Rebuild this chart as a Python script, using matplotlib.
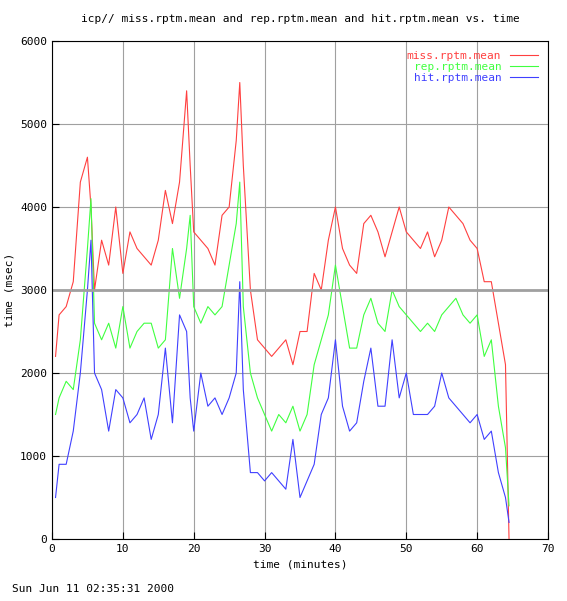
import matplotlib
matplotlib.use("Agg")
import matplotlib.pyplot as plt

t = [0.5,1,2,3,4,5,5.5,6,7,8,9,10,11,12,13,14,15,16,17,18,19,19.5,20,21,22,23,24,25,26,26.5,27,28,29,30,31,32,33,34,35,36,37,38,39,40,41,42,43,44,45,46,47,48,49,50,51,52,53,54,55,56,57,58,59,60,61,62,63,64,64.5]
miss = [2200,2700,2800,3100,4300,4600,4000,3000,3600,3300,4000,3200,3700,3500,3400,3300,3600,4200,3800,4300,5400,4500,3700,3600,3500,3300,3900,4000,4800,5500,4500,3000,2400,2300,2200,2300,2400,2100,2500,2500,3200,3000,3600,4000,3500,3300,3200,3800,3900,3700,3400,3700,4000,3700,3600,3500,3700,3400,3600,4000,3900,3800,3600,3500,3100,3100,2600,2100,0]
rep = [1500,1700,1900,1800,2400,3500,4100,2600,2400,2600,2300,2800,2300,2500,2600,2600,2300,2400,3500,2900,3500,3900,2800,2600,2800,2700,2800,3300,3800,4300,2800,2000,1700,1500,1300,1500,1400,1600,1300,1500,2100,2400,2700,3300,2800,2300,2300,2700,2900,2600,2500,3000,2800,2700,2600,2500,2600,2500,2700,2800,2900,2700,2600,2700,2200,2400,1600,1100,400]
hit = [500,900,900,1300,2000,3000,3600,2000,1800,1300,1800,1700,1400,1500,1700,1200,1500,2300,1400,2700,2500,1700,1300,2000,1600,1700,1500,1700,2000,3100,1800,800,800,700,800,700,600,1200,500,700,900,1500,1700,2400,1600,1300,1400,1900,2300,1600,1600,2400,1700,2000,1500,1500,1500,1600,2000,1700,1600,1500,1400,1500,1200,1300,800,500,200]
n = min(len(t), len(miss), len(rep), len(hit))

plt.rcParams['font.family'] = 'DejaVu Sans Mono'
fig = plt.figure(figsize=(5.67, 6.01), dpi=100)
ax = fig.add_axes([52/567, 1-539/601, 496/567, 498/601])
ax.plot(t[:n], miss[:n], color='#ff4040', lw=0.8, label='miss.rptm.mean')
ax.plot(t[:n], rep[:n], color='#40ff40', lw=0.8, label='rep.rptm.mean')
ax.plot(t[:n], hit[:n], color='#4040ff', lw=0.8, label='hit.rptm.mean')
ax.set_xlim(0, 70); ax.set_ylim(0, 6000)
ax.set_xticks(range(0, 71, 10)); ax.set_yticks(range(0, 6001, 1000))
ax.grid(True, color='#a0a0a0', lw=0.8)
ax.axhline(3000, color='#a0a0a0', lw=2)
ax.tick_params(direction='in', labelsize=8, length=5)
ax.set_title('icp// miss.rptm.mean and rep.rptm.mean and hit.rptm.mean vs. time', fontsize=8, pad=14)
ax.set_xlabel('time (minutes)', fontsize=8)
ax.set_ylabel('time (msec)', fontsize=8)
leg = ax.legend(loc='upper right', fontsize=8, frameon=False, markerfirst=False, handlelength=2.5, labelspacing=0.1)
for txt, c in zip(leg.get_texts(), ['#ff4040', '#40ff40', '#4040ff']):
    txt.set_color(c)
fig.text(12/567, 1-592/601, 'Sun Jun 11 02:35:31 2000', fontsize=8)
fig.savefig('out.png', dpi=100)
